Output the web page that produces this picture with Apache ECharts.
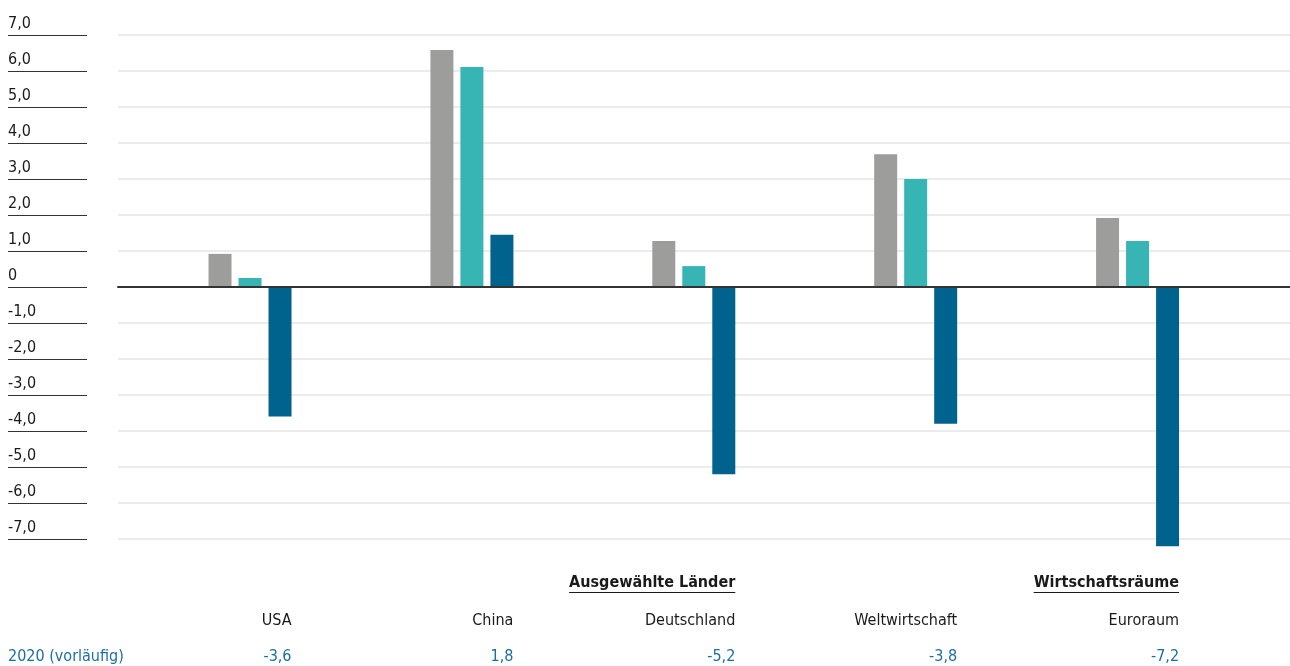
<!DOCTYPE html>
<html><head><meta charset="utf-8">
<script src="https://cdn.jsdelivr.net/npm/echarts@6/dist/echarts.min.js"></script>
<style>html,body{margin:0;padding:0;background:#fff}#c{width:1290px;height:666px}</style>
</head><body><div id="c"></div>
<script>
// ---- data ----
const categories = ['USA', 'China', 'Deutschland', 'Weltwirtschaft', 'Euroraum'];
const seriesGrau = [0.92, 6.58, 1.28, 3.69, 1.92];
const seriesTuerkis = [0.25, 6.11, 0.58, 3.0, 1.28];
const series2020 = [-3.6, 1.45, -5.2, -3.8, -7.2];
const tableRowLabel = '2020 (vorläufig)';
const tableValues = ['-3,6', '1,8', '-5,2', '-3,8', '-7,2'];
const groupHeadings = ['Ausgewählte Länder', 'Wirtschaftsräume'];
const groupLastIndex = [2, 4];
const yMin = -7, yMax = 7, yStep = 1;

// ---- style ----
const FONT = '"DejaVu Sans Condensed", "DejaVu Sans", sans-serif';
const TEXT = '#1a1a1a';
const BLUE_TEXT = '#1d6fa0';
const BAR_W = 23, BAR_GAP = 7;

const chart = echarts.init(document.getElementById('c'), null, {renderer: 'canvas'});
const fmt = v => v === 0 ? '0' : (v < 0 ? '-' : '') + Math.abs(v).toFixed(1).replace('.', ',');

chart.setOption({
  animation: false,
  backgroundColor: '#fff',
  grid: {left: 118, right: 0, top: 35, bottom: 127, containLabel: false},
  xAxis: {
    type: 'value', min: -0.595, max: 4.687, z: 5,
    axisLine: {show: true, onZero: true, lineStyle: {color: '#333', width: 2}},
    axisTick: {show: false}, axisLabel: {show: false}, splitLine: {show: false}
  },
  yAxis: {
    type: 'value', min: yMin, max: yMax, interval: yStep, offset: 31, position: 'left',
    axisLine: {show: false, onZero: false},
    axisTick: {show: true, length: 79, lineStyle: {color: '#333', width: 1}},
    axisLabel: {
      align: 'left', margin: 79, verticalAlign: 'bottom', padding: [0, 0, 3, 0],
      fontSize: 16, color: TEXT, fontFamily: FONT, formatter: fmt
    },
    splitLine: {lineStyle: {color: '#e4e4e4', width: 1.5}}
  },
  series: [
    {name: 'grau', type: 'bar', clip: false, barWidth: BAR_W, barGap: (BAR_GAP / BAR_W * 100) + '%',
     itemStyle: {color: '#9d9d9c'}, data: seriesGrau.map((v, i) => [i, v])},
    {name: 'türkis', type: 'bar', clip: false, barWidth: BAR_W, barGap: (BAR_GAP / BAR_W * 100) + '%',
     itemStyle: {color: '#36b5b4'}, data: seriesTuerkis.map((v, i) => [i, v])},
    {name: '2020 (vorläufig)', type: 'bar', clip: false, barWidth: BAR_W, barGap: (BAR_GAP / BAR_W * 100) + '%',
     itemStyle: {color: '#00638e'}, data: series2020.map((v, i) => [i, v])}
  ]
});

// ---- table below the chart ----
const ctx = document.createElement('canvas').getContext('2d');
const graphics = [];
const rightOffset = 1.5 * BAR_W + BAR_GAP;
const colRight = i => chart.convertToPixel({xAxisIndex: 0}, i) + rightOffset;

graphics.push({type: 'text', x: 8, y: 657, style: {text: tableRowLabel, align: 'left', verticalAlign: 'middle', font: '16px ' + FONT, fill: BLUE_TEXT}});
categories.forEach((c, i) => {
  const x = colRight(i);
  graphics.push({type: 'text', x: x, y: 621, style: {text: c, align: 'right', verticalAlign: 'middle', font: '16px ' + FONT, fill: TEXT}});
  graphics.push({type: 'text', x: x, y: 657, style: {text: tableValues[i], align: 'right', verticalAlign: 'middle', font: '16px ' + FONT, fill: BLUE_TEXT}});
});
groupHeadings.forEach((h, k) => {
  const x = colRight(groupLastIndex[k]);
  const font = 'bold 16px ' + FONT;
  ctx.font = font;
  const w = ctx.measureText(h).width;
  graphics.push({type: 'text', x: x, y: 583, style: {text: h, align: 'right', verticalAlign: 'middle', font: font, fill: TEXT}});
  graphics.push({type: 'line', shape: {x1: x - w, y1: 592.5, x2: x, y2: 592.5}, style: {stroke: TEXT, lineWidth: 1}});
});
chart.setOption({graphic: graphics});
</script>
</body></html>
